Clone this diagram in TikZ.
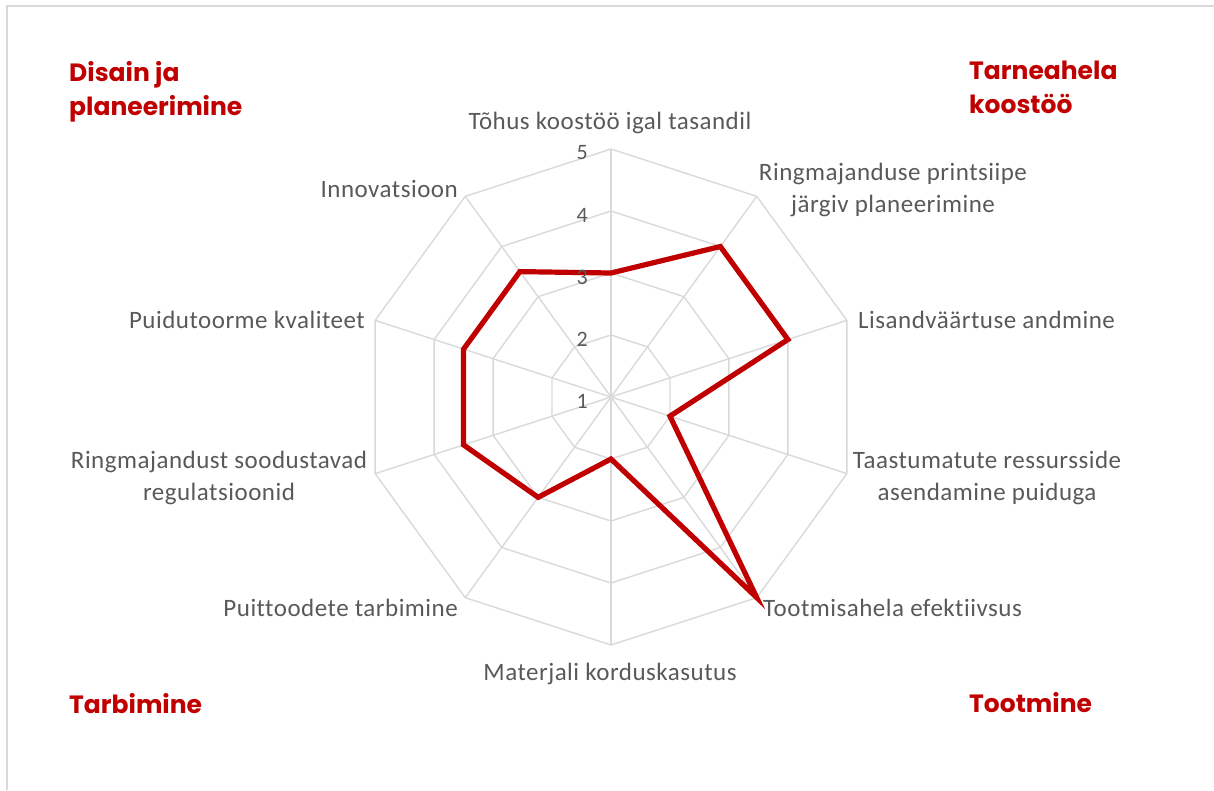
\documentclass[tikz,border=0pt]{standalone}
\usepackage{fontspec}
\setmainfont{Carlito}
\newfontfamily\labelfont{Carlito}[LetterSpace=2,Ligatures=NoCommon]
\newfontfamily\headfont{Poppins}
\definecolor{chartred}{HTML}{C00000}
\definecolor{gridgray}{HTML}{D9D9D9}
\definecolor{labelgray}{HTML}{595959}

\begin{document}
\begin{tikzpicture}[
    x=1pt, y=1pt,
    grid line/.style={
        draw=gridgray, line width=1.4pt,
    },
    axis label/.style={
        text=labelgray, inner sep=0pt, align=center,
        font=\labelfont\fontsize{25}{32}\selectfont,
    },
    scale label/.style={
        text=labelgray, inner sep=0pt, anchor=east,
        font=\labelfont\fontsize{22}{25}\selectfont,
    },
    group label/.style={
        text=chartred, inner sep=0pt, align=left,
        font=\headfont\bfseries\fontsize{25}{34}\selectfont,
    },
    data line/.style={
        draw=chartred, line width=5.2pt, line join=miter,
    },
    ]
    \useasboundingbox (0,0) rectangle (1214,-790);
    \draw [grid line] (7,-790) -- (7,-6) -- (1214,-6);

    \begin{scope}[shift={(611,-397)}]
        \coordinate (centre) at (0,0);
        % rings
        \foreach \r in {1,...,4}
            \draw [grid line] (90:62*\r)
                \foreach \i in {1,...,9} { -- (90-36*\i:62*\r) } -- cycle;
        % spokes
        \foreach \i in {0,...,9}
            \draw [grid line] (centre) -- (90-36*\i:248) coordinate (spoke\i);
        % scores
        \foreach \v [count=\i from 0] in {3,4,4,2,5,2,3,3.5,3.5,3.5}
            \coordinate (score\i) at (90-36*\i:62*\v-62);
        \draw [data line] (score0) -- (score1) -- (score2) -- (score3) -- (score4)
            -- (score5) -- (score6) -- (score7) -- (score8) -- (score9) -- cycle;
    \end{scope}

    \foreach \k in {1,...,5}
        \node [scale label] (tick\k) at (588,{-401+62*(\k-1)}) {\k};

    \node [axis label, anchor=base] (cooperation) at (610,-129) {Tõhus koostöö igal tasandil};
    \node [axis label] (circular) at (893,-190) {Ringmajanduse printsiipe\\järgiv planeerimine};
    \node [axis label, anchor=west] (value) at (858,-320) {Lisandväärtuse andmine};
    \node [axis label] (replace) at (987,-478) {Taastumatute ressursside\\asendamine puiduga};
    \node [axis label, anchor=west] (efficiency) at (763,-608) {Tootmisahela efektiivsus};
    \node [axis label] (reuse) at (610,-674) {Materjali korduskasutus};
    \node [axis label, anchor=east] (consumption) at (458,-608) {Puittoodete tarbimine};
    \node [axis label] (regulation) at (219,-478) {Ringmajandust soodustavad\\regulatsioonid};
    \node [axis label, anchor=east] (quality) at (365,-320) {Puidutoorme kvaliteet};
    \node [axis label, anchor=east] (innovation) at (458,-189) {Innovatsioon};

    \node [group label, anchor=north west] (design) at (69,-61) {Disain ja\\planeerimine};
    \node [group label, anchor=north west] (supply) at (969,-61) {Tarneahela\\koostöö};
    \node [group label, anchor=base west] (use) at (69,-713) {Tarbimine};
    \node [group label, anchor=base west] (production) at (969,-712) {Tootmine};
\end{tikzpicture}
\end{document}
